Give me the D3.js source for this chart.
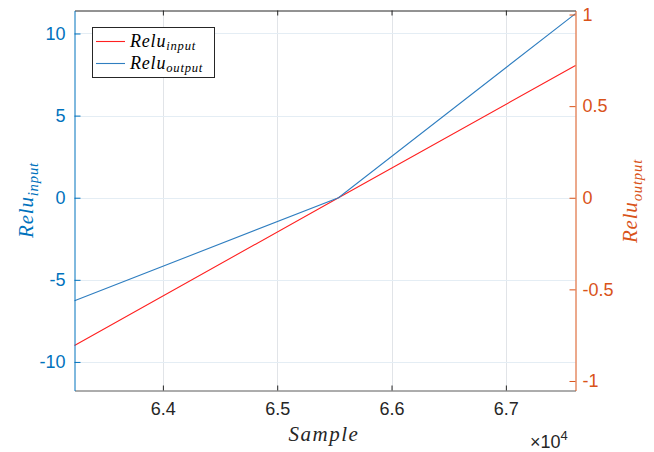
<!DOCTYPE html>
<html>
<head>
<meta charset="utf-8">
<script src="https://cdn.jsdelivr.net/npm/d3@7"></script>
<style>
  body { margin: 0; background: #fff; }
  svg { display: block; }
</style>
</head>
<body>
<svg id="chart" width="654" height="452"></svg>
<script>
// values
var sample = [63227, 65536, 67609];
var reluInput = [-9.0, 0, 8.05];      // left axis
var reluOutput = [-0.562, 0, 1.005];  // right axis

var xLimits = [63227, 67609];
var leftLimits = [-11.74, 11.40];
var rightLimits = [-1.052, 1.022];

var xTicks = [64000, 65000, 66000, 67000];
var xTickLabels = ["6.4", "6.5", "6.6", "6.7"];
var leftTicks = [-10, -5, 0, 5, 10];
var rightTicks = [-1, -0.5, 0, 0.5, 1];

var leftColor = "#0072BD", rightColor = "#D95319";
var sans = "Arial, 'Liberation Sans', Helvetica, sans-serif";
var serif = "'Times New Roman', 'Liberation Serif', Times, serif";
var L = 74.5, R = 575.5, T = 10.5, B = 390.5;

var svg = d3.select("#chart");

var x = d3.scaleLinear().domain(xLimits).range([L, R]);
var yL = d3.scaleLinear().domain(leftLimits).range([B, T]);
var yR = d3.scaleLinear().domain(rightLimits).range([B, T]);

// grid
svg.append("g").selectAll("line").data(xTicks).enter().append("line")
    .attr("x1", d => Math.round(x(d)) + 0.5).attr("x2", d => Math.round(x(d)) + 0.5)
    .attr("y1", T).attr("y2", B)
    .attr("stroke", "#e1e4e8").attr("stroke-width", 1);
svg.append("g").selectAll("line").data(leftTicks).enter().append("line")
    .attr("x1", L).attr("x2", R)
    .attr("y1", d => Math.round(yL(d)) + 0.5).attr("y2", d => Math.round(yL(d)) + 0.5)
    .attr("stroke", "#e4edf4").attr("stroke-width", 1);

// series
var line = function (ys, scale) {
    return d3.line().x((d, i) => x(sample[i])).y(d => scale(d))(ys);
};
svg.append("path").attr("d", line(reluInput, yL))
    .attr("fill", "none").attr("stroke", "#ff2020").attr("stroke-width", 1.1);
svg.append("path").attr("d", line(reluOutput, yR))
    .attr("fill", "none").attr("stroke", "#2f7ec0").attr("stroke-width", 1.1);

// axes
function styleTicks(g, color) {
    g.selectAll(".tick text").style("font-family", sans).style("font-size", "18px").attr("fill", color);
}
var xAxis = svg.append("g").attr("transform", "translate(0," + B + ")")
    .call(d3.axisBottom(x).tickValues(xTicks).tickFormat((d, i) => xTickLabels[i])
        .tickSizeInner(-5).tickSizeOuter(0).tickPadding(12));
xAxis.select(".domain").attr("stroke", "#5a5a5a");
xAxis.selectAll(".tick line").attr("stroke", "#262626");
styleTicks(xAxis, "#262626");
xAxis.selectAll(".tick text").attr("dy", "0.71em");

var topAxis = svg.append("g").attr("transform", "translate(0," + T + ")")
    .call(d3.axisTop(x).tickValues(xTicks).tickFormat("").tickSizeInner(-5).tickSizeOuter(0));
topAxis.selectAll("path, line").attr("stroke", "#262626");

var leftAxis = svg.append("g").attr("transform", "translate(" + L + ",0)")
    .call(d3.axisLeft(yL).tickValues(leftTicks).tickFormat(d => String(d))
        .tickSizeInner(-6).tickSizeOuter(0).tickPadding(9));
leftAxis.selectAll("path, line").attr("stroke", leftColor);
styleTicks(leftAxis, leftColor);

var rightAxis = svg.append("g").attr("transform", "translate(" + R + ",0)")
    .call(d3.axisRight(yR).tickValues(rightTicks).tickFormat(d => String(d))
        .tickSizeInner(-6).tickSizeOuter(0).tickPadding(7));
rightAxis.selectAll("path, line").attr("stroke", rightColor);
styleTicks(rightAxis, rightColor);

// exponent
var ex = svg.append("text").attr("x", 530).attr("y", 448)
    .style("font-family", sans).style("font-size", "18px").attr("fill", "#262626");
ex.append("tspan").text("\u00d710");
ex.append("tspan").style("font-size", "13px").attr("dy", -8).text("4");

// axis labels
function mathLabel(g, sub, size) {
    g.append("tspan").text("Relu");
    g.append("tspan").style("font-size", (size * 0.7) + "px").attr("dy", size * 0.22).text(sub);
}
function mathText(sel, size, color) {
    return sel.style("font-family", serif).style("font-style", "italic")
        .style("font-size", size + "px").attr("fill", color);
}
mathText(svg.append("text"), 21, "#262626")
    .attr("x", 324).attr("y", 441).attr("text-anchor", "middle")
    .attr("letter-spacing", 1.5).text("Sample");

var ylab = mathText(svg.append("text"), 21, leftColor)
    .attr("transform", "translate(33,200) rotate(-90)").attr("text-anchor", "middle")
    .attr("letter-spacing", 0.8);
mathLabel(ylab, "input", 21);

var yrlab = mathText(svg.append("text"), 21, rightColor)
    .attr("transform", "translate(637,201) rotate(-90)").attr("text-anchor", "middle")
    .attr("letter-spacing", 0.8);
mathLabel(yrlab, "output", 21);

// legend
var legend = svg.append("g");
legend.append("rect").attr("x", 92.5).attr("y", 27.5).attr("width", 122).attr("height", 50)
    .attr("fill", "#fff").attr("stroke", "#262626").attr("stroke-width", 1);
var items = [{ sub: "input", color: "#ff2020", y: 41.5 }, { sub: "output", color: "#2f7ec0", y: 63.5 }];
items.forEach(function (it) {
    legend.append("line").attr("x1", 96).attr("x2", 125).attr("y1", it.y).attr("y2", it.y)
        .attr("stroke", it.color).attr("stroke-width", 1.1);
    var t = mathText(legend.append("text"), 18, "#000").attr("x", 130).attr("y", it.y + 5)
        .attr("letter-spacing", 0.8);
    mathLabel(t, it.sub, 18);
});
</script>
</body>
</html>
